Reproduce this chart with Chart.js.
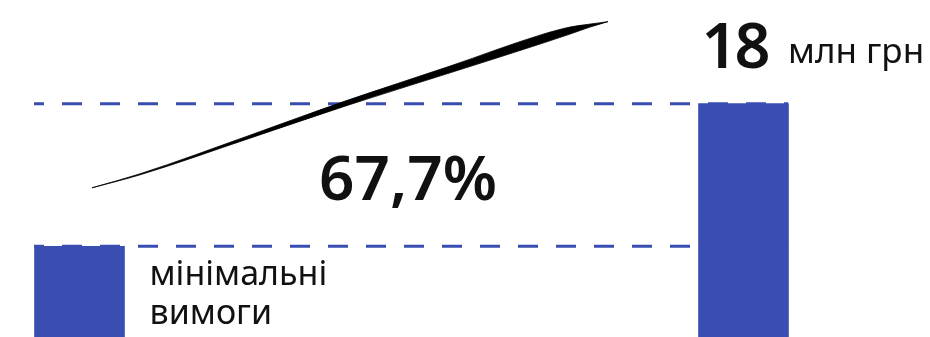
<!DOCTYPE html>
<html>
<head>
<meta charset="utf-8">
<script src="https://cdn.jsdelivr.net/npm/chart.js@4/dist/chart.umd.min.js"></script>
<style>
  html, body { margin: 0; padding: 0; background: #fff; }
  #wrap { position: relative; width: 930px; height: 337px; }
</style>
</head>
<body>
<div id="wrap"><canvas id="chart"></canvas></div>
<script>
  // values
  const barNames = ['мінімальні вимоги', '18 млн грн'];
  const barPositions = [79.5, 743.5];
  const barValues = [7, 18];
  const shareText = '67,7%';
  const unitText = 'млн грн';

  // decorative brush arrow, upper and lower edge in value units
  const arrowX = [92, 140, 250, 345, 450, 540, 570, 590, 608];
  const arrowUpper = [11.51, 12.59, 15.57, 18.20, 20.90, 23.29, 23.91, 24.14, 24.33];
  const arrowLower = [11.51, 12.51, 15.34, 17.81, 20.38, 22.60, 23.37, 23.91, 24.33];

  const BLUE = '#3a4eb1';

  function pts(xs, ys) {
    return xs.map((x, i) => ({ x, y: ys[i] }));
  }

  function refLine(v) {
    return [{ x: 34, y: v }, { x: 788, y: v }];
  }

  const textPlugin = {
    id: 'texts',
    afterDatasetsDraw(chart) {
      const ctx = chart.ctx;
      const xs = chart.scales.x;
      ctx.save();
      ctx.fillStyle = '#111';
      ctx.textBaseline = 'alphabetic';
      ctx.textAlign = 'left';

      // big value above right bar
      const rx = xs.getPixelForValue(barPositions[1]) - 42;
      ctx.font = '600 63px "Noto Sans", sans-serif';
      ctx.letterSpacing = '-3px';
      ctx.fillText(String(barValues[1]), rx, 68);
      ctx.letterSpacing = '0px';
      ctx.font = '35px "Noto Sans", sans-serif';
      ctx.fillText(unitText, 788, 63);

      // share in the middle
      ctx.font = '600 62px "Noto Sans", sans-serif';
      ctx.textAlign = 'center';
      ctx.fillText(shareText, 408, 200);

      // label next to the small bar
      const lx = xs.getPixelForValue(barPositions[0]) + 70;
      ctx.font = '34px "Noto Sans", sans-serif';
      ctx.textAlign = 'left';
      const parts = barNames[0].split(' ');
      ctx.fillText(parts[0], lx, 285);
      ctx.fillText(parts[1], lx, 324);
      ctx.restore();
    }
  };

  new Chart(document.getElementById('chart'), {
    data: {
      datasets: [
        {
          type: 'bar',
          data: pts(barPositions, barValues),
          backgroundColor: BLUE,
          barThickness: 90,
          order: 3
        },
        {
          type: 'line',
          data: refLine(barValues[1]),
          borderColor: BLUE,
          borderWidth: 3,
          borderDash: [20, 18],
          borderDashOffset: 10,
          pointRadius: 0,
          fill: false,
          order: 2
        },
        {
          type: 'line',
          data: refLine(barValues[0]),
          borderColor: BLUE,
          borderWidth: 3,
          borderDash: [20, 18],
          borderDashOffset: 10,
          pointRadius: 0,
          fill: false,
          order: 2
        },
        {
          type: 'line',
          data: pts(arrowX, arrowUpper),
          borderColor: '#000',
          borderWidth: 0.8,
          pointRadius: 0,
          cubicInterpolationMode: 'monotone',
          fill: false,
          order: 1
        },
        {
          type: 'line',
          data: pts(arrowX, arrowLower),
          borderColor: '#000',
          borderWidth: 0.8,
          backgroundColor: '#000',
          pointRadius: 0,
          cubicInterpolationMode: 'monotone',
          fill: '-1',
          order: 1
        }
      ]
    },
    options: {
      responsive: true,
      maintainAspectRatio: false,
      animation: false,
      layout: { padding: 0 },
      plugins: { legend: { display: false }, tooltip: { enabled: false } },
      scales: {
        x: { type: 'linear', min: 0, max: 930, offset: false, display: false },
        y: { type: 'linear', min: 0, max: 26, display: false }
      }
    },
    plugins: [textPlugin]
  });
</script>
</body>
</html>
